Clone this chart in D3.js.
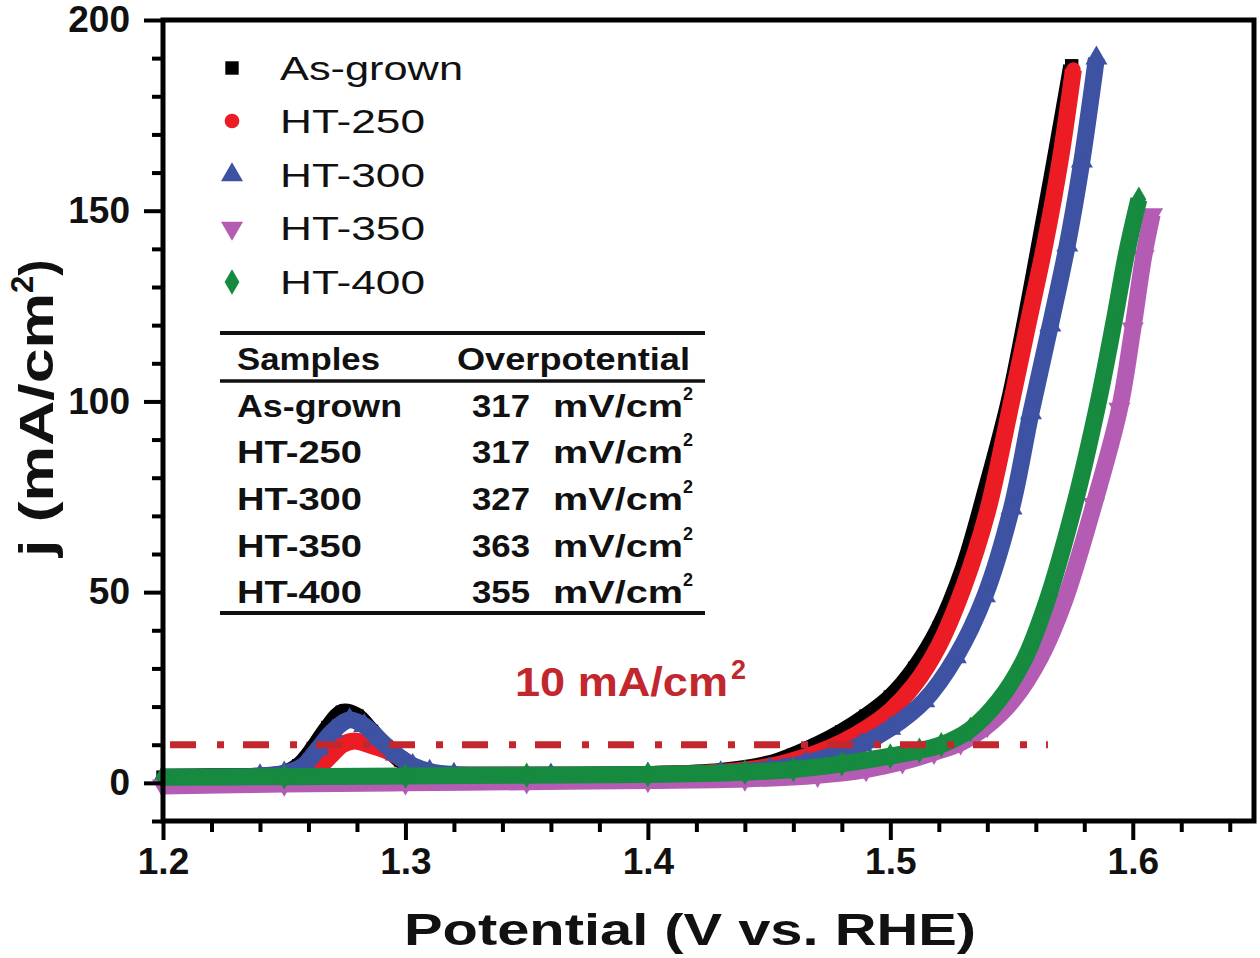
<!DOCTYPE html>
<html><head><meta charset="utf-8">
<script src="https://cdn.jsdelivr.net/npm/d3@7"></script>
<style>
html,body{margin:0;padding:0;background:#fff;}
svg{display:block;}
text{font-family:"Liberation Sans",Arial,sans-serif;}
</style></head>
<body>
<script>
// ---------- data ----------
const seriesNames = ["As-grown","HT-250","HT-300","HT-350","HT-400"];
const seriesColors = ["#000000","#ec1c24","#3d52a3","#b45cb4","#168a3e"];
const seriesSymbols = ["square","circle","triangle","triangleDown","diamond"];

const asGrown = [[1.200,1.5],[1.220,1.6],[1.240,1.8],[1.250,2.5],[1.256,4.5],[1.262,9],[1.268,14.5],[1.274,18.5],[1.280,17.5],[1.286,13.5],[1.292,9.5],[1.298,6],[1.305,3.5],[1.312,2.3],[1.330,2],[1.360,2],[1.400,2.2],[1.430,3],[1.450,5],[1.460,7.2],[1.470,10],[1.480,13.4],[1.490,17.5],[1.500,22.5],[1.510,30],[1.520,40.5],[1.530,56],[1.540,78],[1.549,100],[1.556,122],[1.563,146],[1.569,167],[1.5748,188]];
const ht250 = [[1.200,1.2],[1.240,1.5],[1.258,2],[1.264,4],[1.269,7],[1.274,10],[1.279,11],[1.285,10],[1.292,8.5],[1.298,6.5],[1.304,4],[1.312,2.3],[1.330,2],[1.360,2],[1.400,2.2],[1.430,2.8],[1.450,4.3],[1.460,5.9],[1.470,7.9],[1.480,10.6],[1.490,14.2],[1.500,18.9],[1.510,25.8],[1.520,36],[1.530,51],[1.540,71],[1.550,100],[1.557,121],[1.564,142],[1.570,163],[1.5755,187]];
const ht300 = [[1.200,1.5],[1.240,1.8],[1.250,2.5],[1.258,4.5],[1.264,9],[1.270,13.5],[1.277,16.5],[1.283,15],[1.289,11.5],[1.296,7.5],[1.303,4.5],[1.310,3],[1.320,2.2],[1.360,2],[1.400,2.2],[1.430,2.6],[1.450,3.6],[1.465,5.2],[1.478,7.6],[1.488,10],[1.500,14.3],[1.514,21.5],[1.527,33],[1.539,49],[1.550,72],[1.558,97],[1.566,120],[1.573,141],[1.579,163],[1.585,190]];
const ht350 = [[1.200,-0.8],[1.250,-0.3],[1.300,0],[1.350,0.3],[1.400,0.6],[1.440,1],[1.470,2],[1.490,3.5],[1.505,5.5],[1.518,8],[1.529,10.5],[1.540,15],[1.551,22],[1.562,33],[1.572,48],[1.584,73],[1.5945,98],[1.600,119],[1.6045,138],[1.608,149]];
const ht400 = [[1.200,1.5],[1.250,1.6],[1.300,1.8],[1.350,2],[1.400,2.2],[1.440,2.8],[1.460,3.5],[1.480,5],[1.500,7],[1.512,8.5],[1.521,10],[1.533,14],[1.5446,21.5],[1.555,32],[1.5645,47.5],[1.576,73],[1.5855,99],[1.592,120],[1.5975,139],[1.6025,153]];
const seriesData = [asGrown, ht250, ht300, ht350, ht400];

const xMajorTicks = [1.2,1.3,1.4,1.5,1.6];
const xMinorTicks = [1.22,1.24,1.26,1.28,1.32,1.34,1.36,1.38,1.42,1.44,1.46,1.48,1.52,1.54,1.56,1.58,1.62,1.64];
const yMajorTicks = [0,50,100,150,200];
const yMinorTicks = [-10,10,20,30,40,60,70,80,90,110,120,130,140,160,170,180,190];

const refLevel = 10;             // mA/cm2
const refRange = [1.2, 1.565];   // extent of dash-dot line
const refLabel = "10 mA/cm";

const tableHeader = ["Samples","Overpotential"];
const tableSamples = ["As-grown","HT-250","HT-300","HT-350","HT-400"];
const tableOverpotentials = [317,317,327,363,355];
const tableUnit = "mV/cm";

// ---------- layout ----------
const W = 1260, H = 958;
const m = {left:163, top:20, right:1254, bottom:821};
const svg = d3.select("body").append("svg").attr("width",W).attr("height",H);

const x = d3.scaleLinear().domain([1.2,1.65]).range([m.left,m.right]);
const y = d3.scaleLinear().domain([-10,200]).range([m.bottom,m.top]);

const symMap = {square:d3.symbolSquare, circle:d3.symbolCircle, triangle:d3.symbolTriangle,
  triangleDown:d3.symbolTriangle, diamond:d3.symbolDiamond};
const symSize = {square:180, circle:170, triangle:210, triangleDown:210, diamond:190};
function sym(name){ return d3.symbol().type(symMap[name]).size(symSize[name])(); }
function symRot(name){ return name==="triangleDown" ? " rotate(180)" : ""; }

// ---------- curves ----------
const line = d3.line().x(d=>x(d[0])).y(d=>y(d[1])).curve(d3.curveCatmullRom.alpha(0.5));
const gPlot = svg.append("g");
seriesData.forEach((data,i)=>{
  const g = gPlot.append("g");
  g.append("path").attr("d",line(data)).attr("fill","none")
    .attr("stroke",seriesColors[i]).attr("stroke-width",17)
    .attr("stroke-linejoin","round").attr("stroke-linecap","butt");
  g.selectAll("path.m").data(data).enter().append("path").attr("class","m")
    .attr("d",sym(seriesSymbols[i]))
    .attr("transform",d=>`translate(${x(d[0])},${y(d[1])})${symRot(seriesSymbols[i])}`)
    .attr("fill",seriesColors[i]);
});

// ---------- 10 mA/cm2 reference ----------
svg.append("line")
  .attr("x1",x(refRange[0])).attr("x2",x(refRange[1]))
  .attr("y1",y(refLevel)).attr("y2",y(refLevel))
  .attr("stroke","#c1272d").attr("stroke-width",7)
  .attr("stroke-dasharray","26,21,7,19").attr("stroke-dashoffset",66);
const rl = svg.append("text").attr("x",515).attr("y",696)
  .attr("fill","#c1272d").attr("font-weight","bold").attr("font-size",41);
rl.append("tspan").text(refLabel).attr("textLength",213).attr("lengthAdjust","spacingAndGlyphs");
rl.append("tspan").text("2").attr("font-size",27).attr("dy",-17).attr("dx",3);

// ---------- axes ----------
function styleAxis(g){
  g.select(".domain").remove();
  g.selectAll(".tick line").attr("stroke","#000").attr("stroke-width",4);
}
svg.append("g").attr("transform",`translate(0,${m.bottom})`)
  .call(d3.axisBottom(x).tickValues(xMinorTicks).tickSize(11).tickFormat(""))
  .call(styleAxis);
svg.append("g").attr("transform",`translate(0,${m.bottom})`)
  .call(d3.axisBottom(x).tickValues(xMajorTicks).tickSize(19).tickPadding(8).tickFormat(d3.format(".1f")))
  .call(styleAxis)
  .call(g=>g.selectAll(".tick text").attr("font-size",37).attr("font-weight","bold")
    .attr("fill","#111").attr("font-family","'Liberation Sans',Arial,sans-serif"));
svg.append("g").attr("transform",`translate(${m.left},0)`)
  .call(d3.axisLeft(y).tickValues(yMinorTicks).tickSize(11).tickFormat(""))
  .call(styleAxis);
svg.append("g").attr("transform",`translate(${m.left},0)`)
  .call(d3.axisLeft(y).tickValues(yMajorTicks).tickSize(19).tickPadding(14).tickFormat(d3.format("d")))
  .call(styleAxis)
  .call(g=>g.selectAll(".tick text").attr("font-size",37).attr("font-weight","bold")
    .attr("fill","#111").attr("font-family","'Liberation Sans',Arial,sans-serif"));

svg.append("rect").attr("x",m.left).attr("y",m.top)
  .attr("width",m.right-m.left).attr("height",m.bottom-m.top)
  .attr("fill","none").attr("stroke","#000").attr("stroke-width",5);

// axis titles
svg.append("text").attr("x",404).attr("y",945)
  .attr("font-size",45).attr("font-weight","bold").attr("fill","#111")
  .attr("textLength",572).attr("lengthAdjust","spacingAndGlyphs")
  .text("Potential (V vs. RHE)");
const yt = svg.append("text").attr("transform","translate(53,557) rotate(-90)")
  .attr("font-size",49).attr("font-weight","bold").attr("fill","#111");
yt.append("tspan").text("j (mA/cm").attr("textLength",264).attr("lengthAdjust","spacingAndGlyphs");
yt.append("tspan").text("2").attr("font-size",31).attr("dy",-20);
yt.append("tspan").text(")").attr("dy",20);

// ---------- legend ----------
const legRows = [68,121,175,228,282];
const legWidths = [183,145,145,145,145];
seriesNames.forEach((n,i)=>{
  svg.append("path").attr("d",sym(seriesSymbols[i]))
    .attr("transform",`translate(232,${legRows[i]})${symRot(seriesSymbols[i])}`)
    .attr("fill",seriesColors[i]);
  svg.append("text").attr("x",280).attr("y",legRows[i]+12)
    .attr("font-size",33).attr("fill","#111")
    .attr("textLength",legWidths[i]).attr("lengthAdjust","spacingAndGlyphs")
    .text(n);
});

// ---------- table ----------
const tf = "'Open Sans','Noto Sans',sans-serif";
const tg = svg.append("g").attr("font-family",tf).attr("font-weight",600).attr("fill","#111");
[333,381,613].forEach(yy=>{
  tg.append("line").attr("x1",220).attr("x2",705).attr("y1",yy).attr("y2",yy)
    .attr("stroke","#111").attr("stroke-width",yy===381?3.5:4);
});
tg.append("text").attr("x",237).attr("y",370).attr("font-size",32)
  .attr("textLength",143).attr("lengthAdjust","spacingAndGlyphs").text(tableHeader[0]);
tg.append("text").attr("x",457).attr("y",370).attr("font-size",32)
  .attr("textLength",233).attr("lengthAdjust","spacingAndGlyphs").text(tableHeader[1]);
const rowY = [417,463,510,557,603];
const sampleW = [165,125,125,125,125];
tableSamples.forEach((s,i)=>{
  tg.append("text").attr("x",237).attr("y",rowY[i]).attr("font-size",32)
    .attr("textLength",sampleW[i]).attr("lengthAdjust","spacingAndGlyphs").text(s);
  tg.append("text").attr("x",472).attr("y",rowY[i]).attr("font-size",32)
    .attr("textLength",58).attr("lengthAdjust","spacingAndGlyphs").text(tableOverpotentials[i]);
  tg.append("text").attr("x",553).attr("y",rowY[i]).attr("font-size",32)
    .attr("textLength",130).attr("lengthAdjust","spacingAndGlyphs").text(tableUnit);
  tg.append("text").attr("x",683).attr("y",rowY[i]-17).attr("font-size",18).text("2");
});
</script>
</body></html>
